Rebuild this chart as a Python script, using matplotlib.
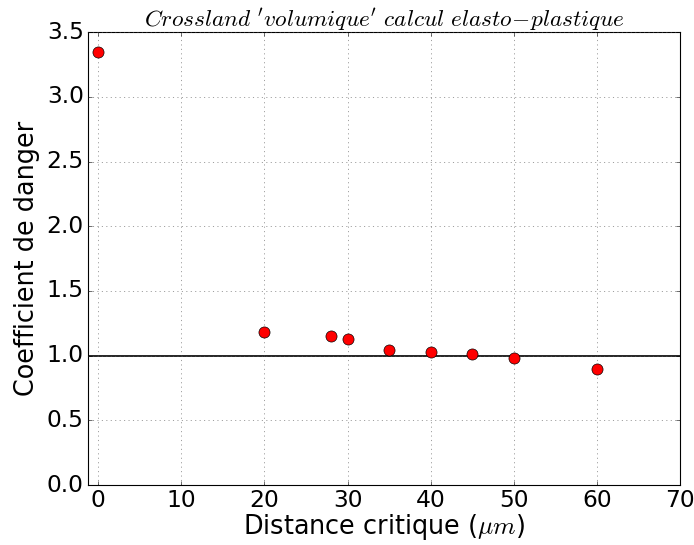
import matplotlib
matplotlib.use("Agg")
import matplotlib.pyplot as plt

plt.style.use('classic')
plt.rcParams['mathtext.fontset'] = 'cm'

distance = [0, 20, 28, 30, 35, 40, 45, 50, 60]
coefficient = [3.35, 1.18, 1.15, 1.13, 1.04, 1.03, 1.01, 0.98, 0.90]
xticks = [0, 10, 20, 30, 40, 50, 60, 70]
yticks = [0.0, 0.5, 1.0, 1.5, 2.0, 2.5, 3.0, 3.5]

fig = plt.figure(figsize=(694/80, 545/80), dpi=80)
ax = fig.add_axes([0.127, 0.110, 0.853, 0.831])
ax.axhline(1.0, color='black', lw=1.5, zorder=2)
ax.plot(distance, coefficient, 'o', color='red', markeredgecolor='black',
        markersize=10, markeredgewidth=0.6, zorder=3)
ax.set_xlim(-1.2, 70)
ax.set_ylim(0, 3.5)
ax.set_xticks(xticks)
ax.set_yticks(yticks)
ax.set_xticklabels([str(t) for t in xticks])
ax.set_yticklabels(['%.1f' % t for t in yticks])
ax.tick_params(labelsize=21)
ax.grid(True, linestyle=':', color='#555555')
ax.set_xlabel(r"Distance critique ($\mu m$)", fontsize=23, labelpad=0)
ax.set_ylabel("Coefficient de danger", fontsize=23, labelpad=6)
ax.set_title(r"$Crossland\ 'volumique'\ calcul\ elasto\!-\!plastique$", fontsize=21)
fig.savefig("out.png", dpi=80)
